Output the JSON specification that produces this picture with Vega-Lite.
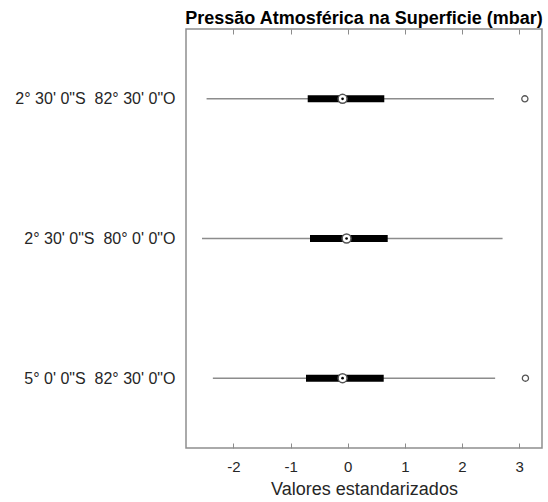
{
  "$schema": "https://vega.github.io/schema/vega-lite/v6.json",
  "width": 356,
  "height": 419,
  "autosize": {"type": "none"},
  "padding": {"left": 186, "top": 29, "right": 6, "bottom": 54},
  "background": "white",
  "config": {
    "font": "Liberation Sans",
    "view": {"stroke": "#8f8f8f", "strokeWidth": 1.5}
  },
  "title": {
    "text": "Pressão Atmosférica na Superficie (mbar)",
    "fontSize": 18,
    "fontWeight": "bold",
    "color": "#000000",
    "font": "Liberation Sans",
    "anchor": "middle",
    "offset": 1
  },
  "datasets": {
    "boxes": [
      {"local": "2° 30' 0\"S \u00a082° 30' 0\"O", "lo": -2.47, "q1": -0.70, "median": -0.09, "q3": 0.64, "hi": 2.56},
      {"local": "2° 30' 0\"S \u00a080° 0' 0\"O", "lo": -2.55, "q1": -0.66, "median": -0.02, "q3": 0.70, "hi": 2.71},
      {"local": "5° 0' 0\"S \u00a082° 30' 0\"O", "lo": -2.36, "q1": -0.73, "median": -0.09, "q3": 0.63, "hi": 2.58}
    ],
    "outliers": [
      {"local": "2° 30' 0\"S \u00a082° 30' 0\"O", "value": 3.10},
      {"local": "5° 0' 0\"S \u00a082° 30' 0\"O", "value": 3.11}
    ]
  },
  "resolve": {"axis": {"x": "independent"}},
  "layer": [
    {
      "data": {"name": "boxes"},
      "mark": {"type": "rule", "color": "#8c8c8c", "strokeWidth": 1.5},
      "encoding": {
        "y": {
          "field": "local", "type": "nominal", "sort": null,
          "scale": {"type": "point", "padding": 0.5},
          "axis": {"title": null, "ticks": false, "domain": false, "labelPadding": 11, "labelFontSize": 16, "labelColor": "#262626", "labelFont": "Liberation Sans"}
        },
        "x": {
          "field": "lo", "type": "quantitative",
          "scale": {"domain": [-2.83, 3.4], "nice": false, "zero": false},
          "axis": {
            "orient": "bottom", "values": [-2, -1, 0, 1, 2, 3], "grid": false, "domain": false,
            "offset": -5, "tickSize": 5, "tickColor": "#8c8c8c", "tickWidth": 1,
            "labelExpr": "datum.value + ''",
            "labelPadding": 11, "labelFontSize": 15, "labelColor": "#262626", "labelFont": "Liberation Sans",
            "title": "Valores estandarizados", "titleFontSize": 18, "titleFontWeight": "normal", "titleColor": "#262626", "titleFont": "Liberation Sans", "titlePadding": 6
          }
        },
        "x2": {"field": "hi"}
      }
    },
    {
      "data": {"name": "boxes"},
      "mark": {"type": "rule", "color": "#000000", "strokeWidth": 7},
      "encoding": {
        "y": {"field": "local", "type": "nominal", "sort": null},
        "x": {
          "field": "q1", "type": "quantitative",
          "axis": {"orient": "top", "values": [-2, -1, 0, 1, 2, 3], "grid": false, "domain": false, "labels": false, "title": null, "offset": -5, "tickSize": 5, "tickColor": "#8c8c8c", "tickWidth": 1}
        },
        "x2": {"field": "q3"}
      }
    },
    {
      "data": {"name": "boxes"},
      "mark": {"type": "point", "shape": "circle", "filled": false, "fill": "white", "stroke": "#555555", "strokeWidth": 1.5, "size": 80, "opacity": 1},
      "encoding": {
        "y": {"field": "local", "type": "nominal", "sort": null},
        "x": {"field": "median", "type": "quantitative", "axis": null}
      }
    },
    {
      "data": {"name": "boxes"},
      "mark": {"type": "point", "shape": "circle", "filled": true, "color": "#000000", "size": 7, "opacity": 1},
      "encoding": {
        "y": {"field": "local", "type": "nominal", "sort": null},
        "x": {"field": "median", "type": "quantitative", "axis": null}
      }
    },
    {
      "data": {"name": "outliers"},
      "mark": {"type": "point", "shape": "circle", "filled": false, "fill": "white", "stroke": "#555555", "strokeWidth": 1.3, "size": 38, "opacity": 1},
      "encoding": {
        "y": {"field": "local", "type": "nominal", "sort": null},
        "x": {"field": "value", "type": "quantitative", "axis": null}
      }
    }
  ]
}
